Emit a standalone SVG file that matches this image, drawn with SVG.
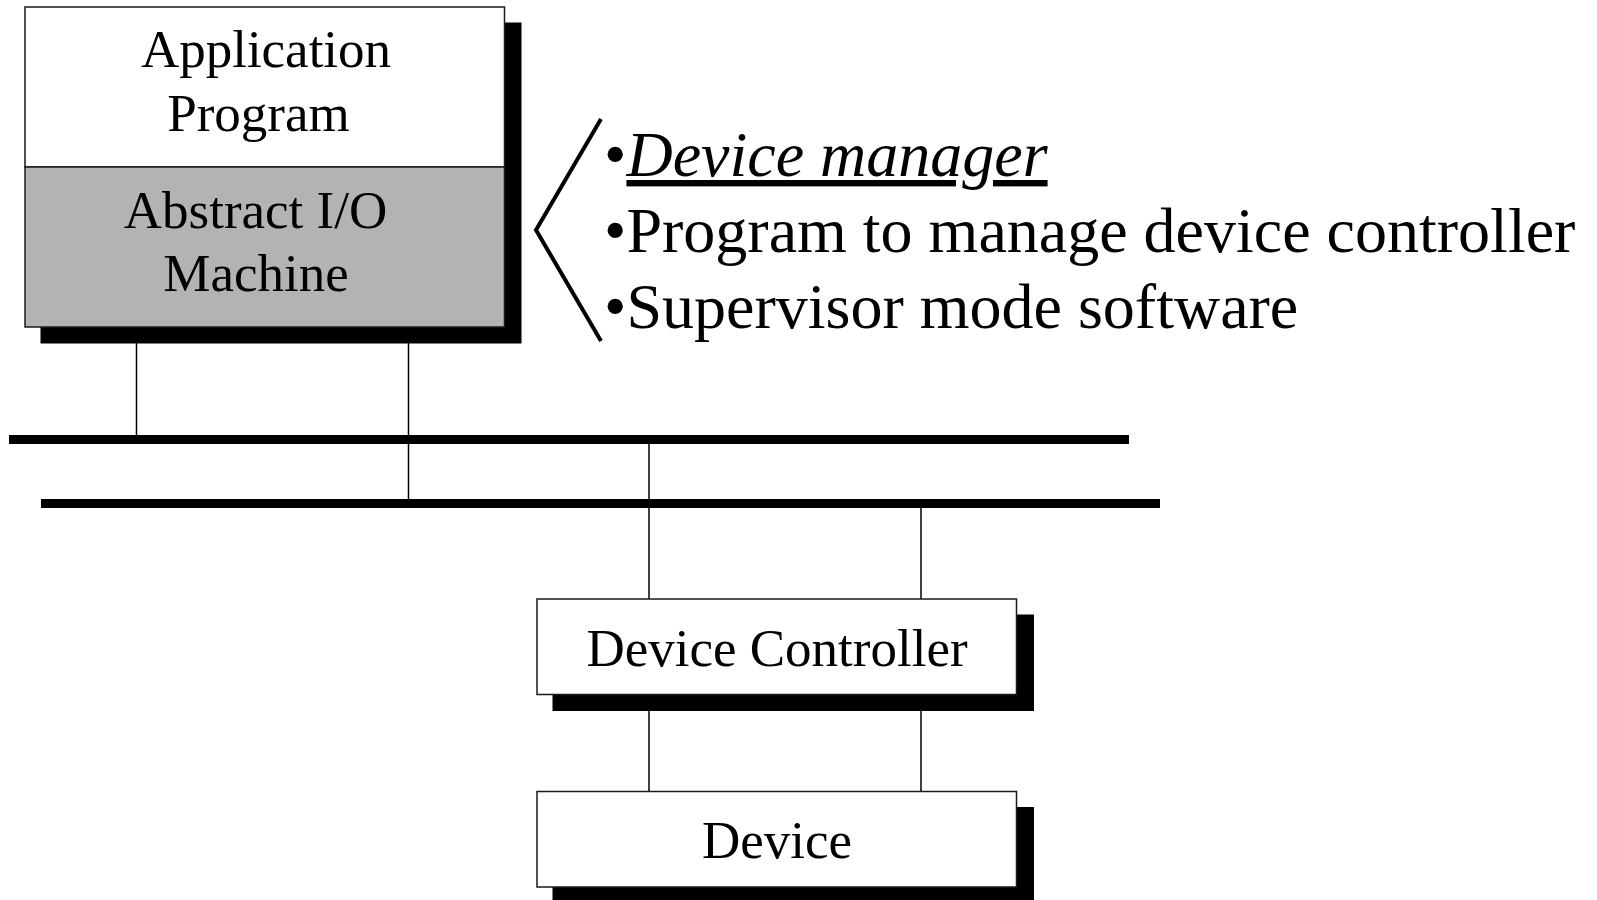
<svg xmlns="http://www.w3.org/2000/svg" width="1597" height="900" viewBox="0 0 1597 900">
<style>
.box{fill:#ffffff;stroke:#1a1a1a;stroke-width:1.5}
.gray{fill:#b3b3b3;stroke:#1a1a1a;stroke-width:1.5}
.shadow{fill:#000000}
.lbl{font-family:"Liberation Serif","Times New Roman",serif;font-size:53px;fill:#000;text-anchor:middle}
.bul{font-family:"Liberation Serif","Times New Roman",serif;font-size:64px;fill:#000}
.wire{stroke:#000;stroke-width:1.5;fill:none}
.bus{stroke:#000;stroke-width:9;fill:none}
</style>
<rect width="1597" height="900" fill="#ffffff"/>
<g id="connectors">
<line class="wire" x1="136.5" y1="327" x2="136.5" y2="436"/>
<line class="wire" x1="408.5" y1="327" x2="408.5" y2="500"/>
<line class="wire" x1="649" y1="440" x2="649" y2="599"/>
<line class="wire" x1="921" y1="503" x2="921" y2="599"/>
<line class="wire" x1="649" y1="694" x2="649" y2="791"/>
<line class="wire" x1="921" y1="694" x2="921" y2="791"/>
<line class="bus" x1="9" y1="439.5" x2="1129" y2="439.5"/>
<line class="bus" x1="41" y1="503.5" x2="1160" y2="503.5"/>
</g>
<g id="node-app">
<rect class="shadow" x="40.5" y="22.5" width="481" height="321"/>
<rect class="box" x="25" y="7" width="479.5" height="160"/>
<rect class="gray" x="25" y="167" width="479.5" height="160"/>
<text class="lbl" x="266" y="67">Application</text>
<text class="lbl" x="258.5" y="131">Program</text>
<text class="lbl" x="255.5" y="228">Abstract I/O</text>
<text class="lbl" x="256" y="291">Machine</text>
</g>
<g id="node-bracket">
<polyline points="601,119 536,230 601,341" fill="none" stroke="#000" stroke-width="4"/>
<text class="bul" x="604" y="176">•<tspan font-style="italic" text-decoration="underline">Device manager</tspan></text>
<text class="bul" x="604" y="252">•Program to manage device controller</text>
<text class="bul" x="604" y="328">•Supervisor mode software</text>
</g>
<g id="node-controller">
<rect class="shadow" x="552.5" y="614.5" width="481.5" height="96.5"/>
<rect class="box" x="537" y="599" width="479.5" height="95.5"/>
<text class="lbl" x="777" y="666">Device Controller</text>
</g>
<g id="node-device">
<rect class="shadow" x="552.5" y="807" width="481.5" height="95"/>
<rect class="box" x="537" y="791.5" width="479.5" height="95.5"/>
<text class="lbl" x="777" y="858">Device</text>
</g>
</svg>
